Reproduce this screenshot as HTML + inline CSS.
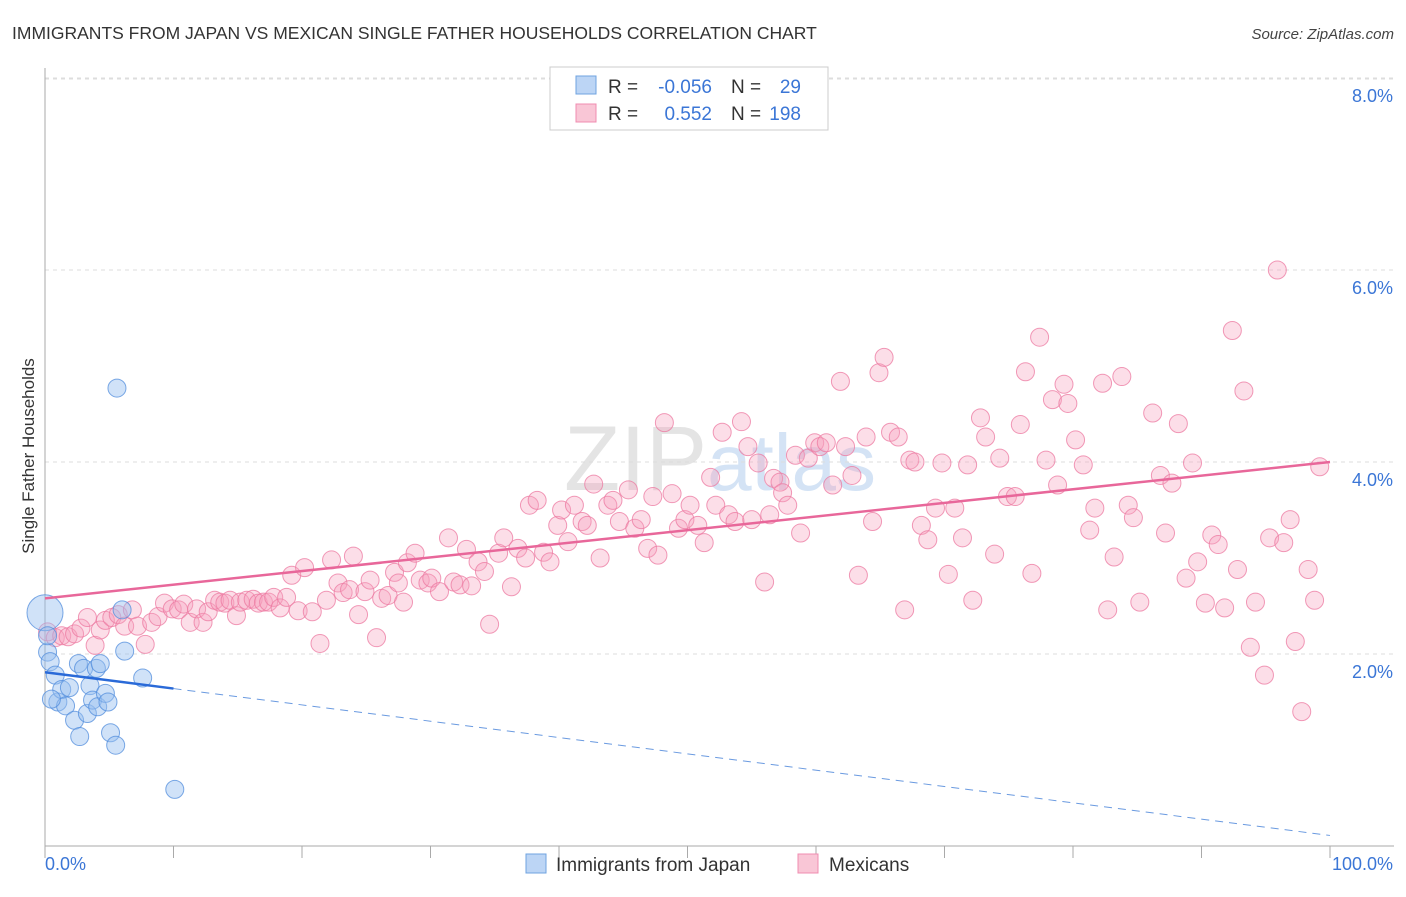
<!DOCTYPE html>
<html><head><meta charset="utf-8"><style>
body{margin:0;background:#fff;font-family:"Liberation Sans",sans-serif;}
svg text{font-family:"Liberation Sans",sans-serif;}
</style></head><body>
<svg id="chart" width="1406" height="892" xmlns="http://www.w3.org/2000/svg">
<text x="12" y="39" font-size="17.5" fill="#333">IMMIGRANTS FROM JAPAN VS MEXICAN SINGLE FATHER HOUSEHOLDS CORRELATION CHART</text>
<text x="1394" y="39" font-size="15" fill="#444" text-anchor="end" font-style="italic">Source: ZipAtlas.com</text>
<text x="720" y="490" font-size="92" fill="#e4e4e4" text-anchor="middle" font-family="Liberation Serif">ZIP<tspan fill="#d4e3f5" font-family="Liberation Sans" font-size="80">atlas</tspan></text>
<g id="grid"></g>
<g id="axes"></g>
<g id="pink"></g>
<g id="blue"></g>
<g id="trends"></g>
<text transform="translate(34,456) rotate(-90)" font-size="17" fill="#333" text-anchor="middle">Single Father Households</text>
<g>
<rect x="550" y="67" width="278" height="63" fill="#fff" stroke="#ccc"/>
<rect x="576" y="76" width="20" height="18" fill="#bcd5f5" stroke="#6fa3e0"/>
<rect x="576" y="104" width="20" height="18" fill="#f9c6d6" stroke="#f08cb0"/>
<text x="608" y="93" font-size="19" fill="#333">R =</text>
<text x="712" y="93" font-size="19" fill="#3b76d6" text-anchor="end">-0.056</text>
<text x="731" y="93" font-size="19" fill="#333">N =</text>
<text x="801" y="93" font-size="19" fill="#3b76d6" text-anchor="end">29</text>
<text x="608" y="120" font-size="19" fill="#333">R =</text>
<text x="712" y="120" font-size="19" fill="#3b76d6" text-anchor="end">0.552</text>
<text x="731" y="120" font-size="19" fill="#333">N =</text>
<text x="801" y="120" font-size="19" fill="#3b76d6" text-anchor="end">198</text>
</g>
<g>
<rect x="526" y="854" width="20" height="19" fill="#bcd5f5" stroke="#6fa3e0"/>
<text x="556" y="871" font-size="19" fill="#333">Immigrants from Japan</text>
<rect x="798" y="854" width="20" height="19" fill="#f9c6d6" stroke="#f08cb0"/>
<text x="829" y="871" font-size="19" fill="#333">Mexicans</text>
</g>
</svg>
<script>
const yTicks=[2,4,6,8];
const yTickLabels=["2.0%","4.0%","6.0%","8.0%"];
const xTicks=[0,10,20,30,40,50,60,70,80,90,100];
const blueX=[0,0.2,0.4,0.8,1.0,1.3,1.6,1.9,2.3,2.7,2.6,3.0,3.3,3.5,3.7,4.0,4.1,4.3,4.7,4.9,5.1,5.5,5.6,6.0,6.2,7.6,10.1,0.2,0.5];
const blueY=[2.43,2.02,1.92,1.78,1.50,1.63,1.46,1.65,1.31,1.14,1.90,1.85,1.38,1.67,1.52,1.85,1.45,1.90,1.59,1.50,1.18,1.05,4.77,2.46,2.03,1.75,0.59,2.19,1.53];
const pinkX=[0.2,0.8,1.3,1.8,2.3,2.8,3.3,3.9,4.3,4.7,5.2,5.7,6.2,6.8,7.2,7.8,8.3,8.8,9.3,9.9,10.4,10.8,11.3,11.8,12.3,12.7,13.2,13.6,14.0,14.4,14.9,15.2,15.7,16.2,16.6,17.0,17.4,17.8,18.3,18.8,19.2,19.7,20.2,20.8,21.4,21.9,22.3,22.8,23.2,23.7,24.0,24.4,24.9,25.3,25.8,26.2,26.7,27.2,27.5,27.9,28.2,28.8,29.2,29.8,30.1,30.7,31.4,31.8,32.3,32.8,33.2,33.7,34.2,34.6,35.3,35.7,36.3,36.8,37.4,37.7,38.3,38.8,39.3,39.9,40.2,40.7,41.2,41.8,42.2,42.7,43.2,43.8,44.2,44.7,45.4,45.9,46.4,46.9,47.3,47.7,48.2,48.8,49.3,49.8,50.2,50.8,51.3,51.8,52.2,52.7,53.2,53.7,54.2,54.7,55.0,55.5,56.0,56.4,56.7,57.2,57.4,57.8,58.4,58.8,59.4,59.9,60.3,60.8,61.3,61.9,62.3,62.8,63.3,63.9,64.4,64.9,65.3,65.8,66.4,66.9,67.3,67.7,68.2,68.7,69.3,69.8,70.3,70.8,71.4,71.8,72.2,72.8,73.2,73.9,74.3,74.9,75.5,75.9,76.3,76.8,77.4,77.9,78.4,78.8,79.3,79.6,80.2,80.8,81.3,81.7,82.3,82.7,83.2,83.8,84.3,84.7,85.2,86.2,86.8,87.2,87.7,88.2,88.8,89.3,89.7,90.3,90.8,91.3,91.8,92.4,92.8,93.3,93.8,94.2,94.9,95.3,95.9,96.4,96.9,97.3,97.8,98.3,98.8,99.2];
const pinkY=[2.23,2.17,2.19,2.18,2.21,2.27,2.38,2.09,2.25,2.35,2.38,2.41,2.29,2.46,2.29,2.10,2.33,2.39,2.53,2.47,2.46,2.52,2.33,2.47,2.33,2.44,2.56,2.54,2.53,2.56,2.40,2.54,2.56,2.57,2.53,2.54,2.54,2.59,2.48,2.59,2.82,2.45,2.90,2.44,2.11,2.56,2.98,2.74,2.64,2.67,3.02,2.41,2.65,2.77,2.17,2.58,2.61,2.85,2.74,2.54,2.95,3.05,2.77,2.74,2.79,2.65,3.21,2.75,2.72,3.09,2.71,2.96,2.86,2.31,3.05,3.21,2.70,3.10,3.00,3.55,3.60,3.06,2.96,3.34,3.50,3.17,3.55,3.38,3.34,3.77,3.00,3.55,3.60,3.38,3.71,3.31,3.40,3.10,3.64,3.03,4.41,3.67,3.31,3.40,3.55,3.34,3.16,3.84,3.55,4.31,3.45,3.38,4.42,4.16,3.40,3.99,2.75,3.45,3.83,3.79,3.68,3.55,4.07,3.26,4.04,4.20,4.16,4.20,3.76,4.84,4.16,3.86,2.82,4.26,3.38,4.93,5.09,4.31,4.26,2.46,4.02,4.00,3.34,3.19,3.52,3.99,2.83,3.52,3.21,3.97,2.56,4.46,4.26,3.04,4.04,3.64,3.64,4.39,4.94,2.84,5.30,4.02,4.65,3.76,4.81,4.61,4.23,3.97,3.29,3.52,4.82,2.46,3.01,4.89,3.55,3.42,2.54,4.51,3.86,3.26,3.78,4.40,2.79,3.99,2.96,2.53,3.24,3.14,2.48,5.37,2.88,4.74,2.07,2.54,1.78,3.21,6.00,3.16,3.40,2.13,1.40,2.88,2.56,3.95];
const pinkTrend=[2.58,4.0];
const blueTrend=[1.81,0.11];
const NS="http://www.w3.org/2000/svg";
const X0=45,X1=1330,Y0=846,PPU=96;
const sx=v=>X0+(X1-X0)*v/100, sy=v=>Y0-v*PPU;
function mk(p,tag,a){const e=document.createElementNS(NS,tag);for(const k in a)e.setAttribute(k,a[k]);document.getElementById(p).appendChild(e);return e;}
yTicks.forEach((t,i)=>{
 const l=mk('grid','line',{x1:X0,x2:1394,y1:sy(t),y2:sy(t),stroke:'#ddd','stroke-dasharray':'4,4'});
 
 
 const tx=mk('grid','text',{x:1393,y:sy(t)+24,'font-size':18,fill:'#3b76d6','text-anchor':'end'});
 tx.textContent=yTickLabels[i];
 
 
});
const topLine=mk('grid','line',{x1:X0,x2:1394,y1:79,y2:79,stroke:'#ddd','stroke-dasharray':'4,4'});


const ya=mk('axes','line',{x1:X0,x2:X0,y1:68,y2:Y0,stroke:'#aaa'});


const xa=mk('axes','line',{x1:X0,x2:1394,y1:Y0,y2:Y0,stroke:'#aaa'});


xTicks.forEach(t=>{const l=mk('axes','line',{x1:sx(t),x2:sx(t),y1:Y0,y2:Y0+12,stroke:'#aaa'});
 
 });
const xl0=mk('axes','text',{x:45,y:870,'font-size':18,fill:'#3b76d6'});xl0.textContent='0.0%';


const xl1=mk('axes','text',{x:1393,y:870,'font-size':18,fill:'#3b76d6','text-anchor':'end'});xl1.textContent='100.0%';


pinkX.forEach((x,i)=>{const c=mk('pink','circle',{cx:sx(x),cy:sy(pinkY[i]),r:9,fill:'rgba(246,160,188,0.35)',stroke:'rgba(236,120,160,0.75)','stroke-width':1});
 
 });
blueX.forEach((x,i)=>{const c=mk('blue','circle',{cx:sx(x),cy:sy(blueY[i]),r:i===0?18:9,fill:'rgba(150,190,240,0.45)',stroke:'rgba(80,140,220,0.75)','stroke-width':1});
 
 });
const pt=mk('trends','line',{x1:sx(0),y1:sy(pinkTrend[0]),x2:sx(100),y2:sy(pinkTrend[1]),stroke:'#e8679a','stroke-width':2.5});


const bv=v=>blueTrend[0]+(blueTrend[1]-blueTrend[0])*v/100;
const bt=mk('trends','line',{x1:sx(0),y1:sy(bv(0)),x2:sx(10),y2:sy(bv(10)),stroke:'#2a6ad8','stroke-width':2.5});


const bd=mk('trends','line',{x1:sx(10),y1:sy(bv(10)),x2:sx(100),y2:sy(bv(100)),stroke:'#6a9ae0','stroke-width':1,'stroke-dasharray':'8,6'});


</script>
</body></html>
